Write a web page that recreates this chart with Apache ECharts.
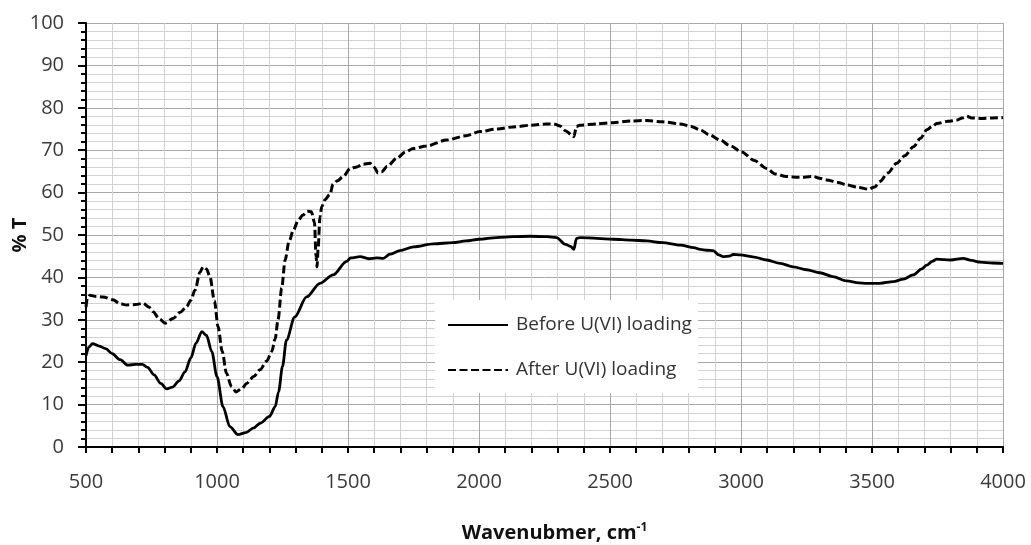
<!DOCTYPE html>
<html>
<head>
<meta charset="utf-8">
<script src="https://cdn.jsdelivr.net/npm/echarts@6/dist/echarts.min.js"></script>
<style>
html,body{margin:0;padding:0;background:#fff;}
#chart{width:1031px;height:545px;}
</style>
</head>
<body>
<div id="chart"></div>
<script>
const seriesNames = ['Before U(VI) loading', 'After U(VI) loading'];
const xTitle = 'Wavenubmer, cm';
const yTitle = '% T';

const beforeX = [500,510,525,550,575,600,630,660,690,715,735,760,785,808,830,855,878,900,920,942,960,980,1000,1023,1049,1080,1110,1140,1165,1200,1222,1235,1250,1265,1297,1342,1393,1443,1495,1510,1546,1580,1610,1635,1660,1698,1750,1826,1900,1950,2000,2067,2130,2195,2260,2296,2330,2350,2362,2372,2385,2450,2512,2580,2640,2700,2769,2820,2844,2870,2894,2915,2932,2955,2970,2996,3050,3098,3150,3199,3250,3301,3350,3403,3450,3479,3530,3581,3620,3657,3690,3709,3730,3747,3800,3848,3880,3913,3960,4000];
const beforeY = [21.5,23.5,24.4,23.8,23.2,22.0,20.6,19.3,19.5,19.5,18.8,17.0,15.0,13.7,14.1,15.6,17.7,21.0,24.5,27.2,26.3,22.5,16.6,9.5,4.8,2.9,3.4,4.5,5.6,7.2,9.5,13.0,19.0,25.2,30.7,35.4,38.6,40.6,43.8,44.6,44.9,44.4,44.6,44.5,45.5,46.3,47.2,47.9,48.2,48.6,49.0,49.4,49.6,49.7,49.6,49.4,47.8,47.3,46.6,49.2,49.4,49.2,49.0,48.8,48.6,48.2,47.6,47.0,46.6,46.4,46.3,45.3,44.9,45.0,45.4,45.3,44.8,44.1,43.3,42.5,41.8,41.1,40.2,39.2,38.7,38.6,38.6,39.0,39.6,40.6,42.0,42.9,43.8,44.3,44.1,44.5,44.0,43.6,43.4,43.3];

const afterX = [500,505,515,540,565,603,630,655,690,718,740,756,780,802,832,860,884,900,916,935,947,960,973,990,1004,1020,1036,1055,1073,1095,1113,1140,1164,1190,1209,1222,1233,1247,1260,1275,1292,1310,1328,1345,1360,1372,1378,1382,1386,1393,1400,1412,1431,1443,1460,1482,1508,1530,1558,1584,1600,1615,1628,1650,1686,1720,1749,1800,1877,1950,2004,2070,2131,2200,2259,2290,2309,2330,2355,2362,2372,2385,2450,2512,2580,2640,2700,2767,2810,2844,2880,2920,2960,3003,3050,3098,3130,3174,3220,3276,3300,3327,3370,3403,3450,3486,3510,3530,3560,3594,3625,3658,3685,3709,3730,3747,3790,3823,3845,3862,3880,3913,3960,4000];
const afterY = [33.0,35.0,35.8,35.5,35.4,34.7,33.8,33.5,33.6,33.9,33.0,31.9,30.2,29.2,30.3,31.8,33.1,34.6,37.0,41.2,42.5,42.0,40.2,34.5,28.4,22.5,17.4,14.3,13.0,13.8,15.0,16.6,18.2,20.3,22.5,25.5,30.0,37.5,44.1,48.5,51.2,53.5,54.7,55.6,55.5,53.0,45.0,42.5,47.0,54.3,56.7,58.3,59.6,62.0,62.8,63.8,65.7,66.0,66.7,66.9,66.0,64.6,64.9,66.2,68.1,69.6,70.4,71.0,72.4,73.4,74.4,75.0,75.5,75.9,76.2,76.1,75.7,74.6,73.6,73.2,75.6,75.9,76.2,76.5,76.9,77.0,76.7,76.2,75.6,74.8,73.6,72.4,71.0,69.6,67.6,65.7,64.4,63.8,63.6,63.8,63.4,63.0,62.4,61.8,61.2,60.8,61.3,62.6,64.6,66.9,68.7,70.8,72.8,74.8,75.6,76.3,76.8,77.1,77.6,78.0,77.6,77.5,77.6,77.7];

const pairs = (xs, ys) => xs.map((x, i) => [x, ys[i]]);
const plain = v => String(v);

const FONT = 'Open Sans';
const chart = echarts.init(document.getElementById('chart'), null, {renderer: 'canvas'});
chart.setOption({
  animation: false,
  backgroundColor: '#fff',
  textStyle: {fontFamily: FONT},
  grid: {left: 86, right: 28, top: 23, bottom: 98, containLabel: false, outerBoundsMode: 'none'},
  legend: {
    left: 435, top: 300, orient: 'vertical',
    backgroundColor: '#fff',
    padding: [15, 6, 13, 12],
    itemWidth: 60, itemHeight: 20, itemGap: 25,
    itemStyle: {opacity: 0, borderWidth: 0},
    textStyle: {fontFamily: FONT, fontSize: 19, color: '#333', lineHeight: 20, padding: [0, 0, 0, 3]},
    data: seriesNames
  },
  xAxis: {
    type: 'value', min: 500, max: 4000, interval: 500,
    name: xTitle + '{sup|-1}',
    nameLocation: 'middle', nameGap: 75, nameMoveOverlap: false,
    nameTextStyle: {fontFamily: FONT, fontSize: 20, fontWeight: 'bold', color: '#111', padding: [0, 0, 0, 20],
      rich: {sup: {fontFamily: FONT, fontSize: 12, fontWeight: 'bold', color: '#111', verticalAlign: 'top', padding: [0, 0, 10, 0]}}},
    axisLine: {show: true, lineStyle: {color: '#000', width: 2}},
    axisTick: {show: true, length: 6, lineStyle: {color: '#000', width: 2}},
    minorTick: {show: true, splitNumber: 5, length: 6, lineStyle: {color: '#000', width: 2}},
    axisLabel: {fontFamily: FONT, fontSize: 20, color: '#3a3a3a', margin: 25, formatter: plain},
    splitLine: {show: true, lineStyle: {color: '#a8a8a8', width: 1}},
    minorSplitLine: {show: true, lineStyle: {color: '#d2d2d2', width: 1}}
  },
  yAxis: {
    type: 'value', min: 0, max: 100, interval: 10,
    name: yTitle, nameLocation: 'middle', nameGap: 56, nameRotate: 90, nameMoveOverlap: false,
    nameTextStyle: {fontFamily: FONT, fontSize: 20, fontWeight: 'bold', color: '#111'},
    axisLine: {show: true, lineStyle: {color: '#000', width: 2}},
    axisTick: {show: true, length: 8, lineStyle: {color: '#000', width: 2}},
    minorTick: {show: true, splitNumber: 5, length: 5, lineStyle: {color: '#000', width: 2}},
    axisLabel: {fontFamily: FONT, fontSize: 20, color: '#3a3a3a', margin: 22, formatter: plain},
    splitLine: {show: true, lineStyle: {color: '#a8a8a8', width: 1}},
    minorSplitLine: {show: true, lineStyle: {color: '#d2d2d2', width: 1}}
  },
  series: [
    {
      name: seriesNames[0], type: 'line', data: pairs(beforeX, beforeY),
      showSymbol: false, symbol: 'none', smooth: 0.3, smoothMonotone: 'x',
      lineStyle: {color: '#000', width: 2.8, type: 'solid'},
      itemStyle: {color: '#000'}
    },
    {
      name: seriesNames[1], type: 'line', data: pairs(afterX, afterY),
      showSymbol: false, symbol: 'none', smooth: 0.3, smoothMonotone: 'x',
      lineStyle: {color: '#000', width: 3, type: [8, 3.5]},
      itemStyle: {color: '#000'}
    }
  ]
});
</script>
</body>
</html>
